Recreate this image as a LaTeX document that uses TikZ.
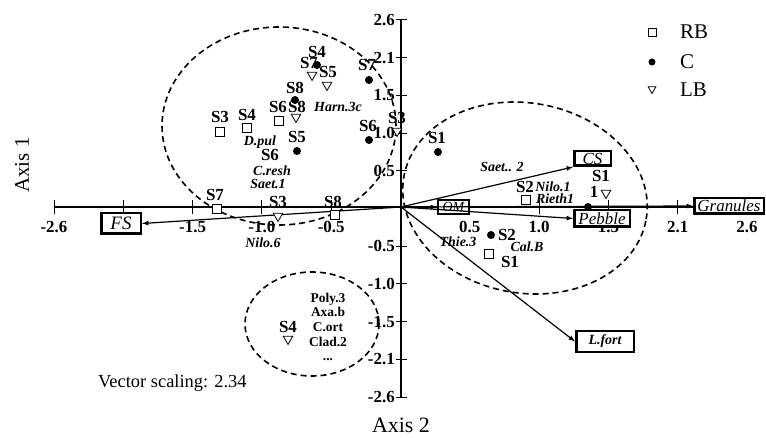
\documentclass[tikz,border=0pt]{standalone}
\usepackage{fontspec}
\setmainfont{Liberation Serif}
\usetikzlibrary{arrows,shapes.geometric}

\tikzset{
	tk/.style={font=\bfseries\fontsize{17}{17}\selectfont, inner sep=0pt},
	st/.style={font=\bfseries\fontsize{17}{17}\selectfont, inner sep=0pt},
	tx/.style={font=\bfseries\itshape\fontsize{14}{14}\selectfont, inner sep=0pt},
	var/.style={draw, fill=white, line width=2.5bp, inner sep=0pt, font=\itshape\fontsize{17}{17}\selectfont},
	rb/.style={draw, fill=white, line width=0.8bp, minimum size=9bp, inner sep=0pt},
	cc/.style={circle, fill, minimum size=8bp, inner sep=0pt},
	lb/.style={draw, fill=white, line width=0.8bp, regular polygon, regular polygon sides=3, shape border rotate=180, minimum size=11bp, inner sep=0pt},
	grp/.style={line width=1.6bp, dash pattern=on 6bp off 4bp},
	big/.style={font=\fontsize{21}{21}\selectfont, inner sep=0pt}
}

\begin{document}
\begin{tikzpicture}[x=1bp, y=-1bp, >=latex]
\useasboundingbox (0,0) rectangle (766,438);
\coordinate (o) at (401,207);

% groups
\draw[grp] (279,126) ellipse [x radius=117bp, y radius=99bp];
\draw[grp, rotate around={-10:(525,198)}] (525,198) ellipse [x radius=123bp, y radius=95bp];
\draw[grp] (312,324) ellipse [x radius=67bp, y radius=52bp];

% axes
\draw[line width=1.3bp] (54,207) -- (748,207);
\draw[line width=1.3bp] (401,20) -- (401,397);
\foreach \x/\t [count=\i] in {54/-2.6, 123.3/{}, 192.6/-1.5, 261.9/-1.0, 331.2/-0.5, 469.8/0.5, 539.1/1.0, 608.4/1.5, 677.7/2.1, 747/2.6}
{
	\draw[line width=1bp] (\x,200) -- (\x,214);
	\node[tk] (hx\i) at (\x,227) {\t};
}
\foreach \y/\t [count=\i] in {20/2.6, 57.7/2.1, 95.4/1.5, 133.1/1.0, 170.8/0.5, 246.2/-0.5, 283.9/-1.0, 321.6/-1.5, 359.3/-2.1, 397/-2.6}
{
	\draw[line width=1bp] (396,\y) -- (407,\y);
	\node[tk, anchor=east] (vy\i) at (395,\y) {\t};
}

% variables
\node[var, minimum width=36.5bp, minimum height=14.5bp] (cs) at (592.5,158.5) {CS};
\node[var, line width=2bp, minimum width=31bp, minimum height=14bp, font=\itshape\fontsize{14}{14}\selectfont] (om) at (453.5,207) {OM};
\node[var, minimum width=55.5bp, minimum height=16.5bp] (pebble) at (602,218.5) {Pebble};
\node[var, minimum width=69.5bp, minimum height=15.5bp] (granules) at (729,206) {Granules};
\node[var, minimum width=39.5bp, minimum height=20.5bp, font=\itshape\fontsize{19}{19}\selectfont] (fs) at (121,223.5) {FS};
\node[var, minimum width=57.5bp, minimum height=20.5bp, font=\bfseries\itshape\fontsize{14}{14}\selectfont] (lfort) at (605,341.5) {L.fort\hspace{12bp}};

\path[->, line width=1.2bp]
(o) edge (cs.south west)
(o) edge (om.west)
(o) edge (pebble.west)
(o) edge (granules.west)
(o) edge (fs.east)
(o) edge (lfort.west)
;

% sites
\foreach \x/\y/\l/\lx/\ly [count=\i] in {220/132/S3/220/117, 247/128/S4/247/115, 279/121/S6/278/107, 526/200/S2/525/187, 489/254/S1/510/262, 217/209/S7/215/195, 335/215/S8/333/202}
{
	\node[st] (rbl\i) at (\lx,\ly) {\l};
	\node[rb] (rb\i) at (\x,\y) {};
}
\foreach \x/\y/\l/\lx/\ly [count=\i] in {312/75/S7/309/63, 327/85/S5/328/72, 296/117/S8/297/107, 397/131/S3/397/118, 278/216/S3/278/202, 288/339/S4/288/327, 606/193/S1/601/176}
{
	\node[st] (lbl\i) at (\lx,\ly) {\l};
	\node[lb] (lb\i) at (\x,\y) {};
}
\foreach \x/\y/\l/\lx/\ly [count=\i] in {317/65/S4/317/52, 369/80/S7/367/65, 295/100/S8/295/88, 297/151/S5/297/137, 369/140/S6/368/126, 438/152/S1/437/138, 491/235/S2/507/235, 588/207/1/594/192}
{
	\node[st] (ccl\i) at (\lx,\ly) {\l};
	\node[cc] (cc\i) at (\x,\y) {};
}
\node[st] (s6) at (270,155) {S6};

% taxa
\node[tx] (harn) at (338,107) {Harn.3c};
\node[tx] (dpul) at (260,142) {D.pul};
\node[tx] (cresh) at (272,171) {C.resh};
\node[tx] (saet1) at (268,184) {Saet.1};
\node[tx] (nilo6) at (263,243) {Nilo.6};
\node[tx] (saet2) at (502,167) {Saet.. 2};
\node[tx] (nilo1) at (553,187) {Nilo.1};
\node[tx] (rieth) at (555,199) {Rieth1};
\node[tx] (thie) at (458,242) {Thie.3};
\node[tx] (calb) at (527,247) {Cal.B};
\node[align=center, inner sep=0pt, font=\bfseries\fontsize{13.5}{14.7}\selectfont] (rest) at (328,327) {Poly.3\\Axa.b\\C.ort\\Clad.2\\...};

% legend
\node[rb, minimum size=8bp] (krb) at (652,32) {};
\node[big, anchor=west] (krbl) at (680,32) {RB};
\node[cc, minimum size=7bp] (kc) at (652,62) {};
\node[big, anchor=west] (kcl) at (680,62) {C};
\node[lb, minimum size=9bp] (klb) at (652,89) {};
\node[big, anchor=west] (klbl) at (680,90) {LB};

\node[big, rotate=90] (ax1) at (22,165) {Axis 1};
\node[big, font=\fontsize{22}{22}\selectfont] (ax2) at (401,425) {Axis 2};
\node[anchor=west, inner sep=0pt, font=\fontsize{18.5}{18.5}\selectfont] (vs) at (98,383) {Vector scaling: 2.34};
\end{tikzpicture}
\end{document}
